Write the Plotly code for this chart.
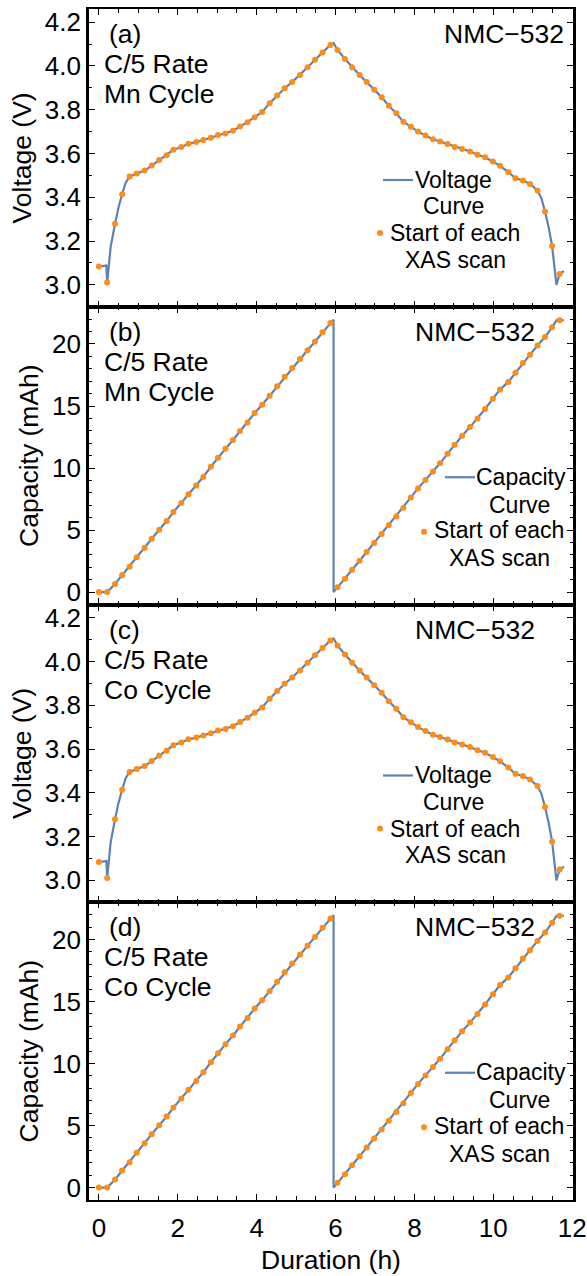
import plotly.graph_objects as go
from plotly.subplots import make_subplots

# ---- cycle data: start time of each XAS scan (h) and the cell state at that moment ----
scan_time = [
    0.00, 0.21, 0.41, 0.59, 0.78, 0.96, 1.16, 1.34, 1.53, 1.72, 1.89, 2.09, 2.27, 2.47,
    2.65, 2.84, 3.02, 3.21, 3.40, 3.58, 3.77, 3.95, 4.14, 4.33, 4.52, 4.71, 4.90, 5.10,
    5.29, 5.48, 5.67, 5.87,
    6.05, 6.24, 6.42, 6.61, 6.79, 6.98, 7.17, 7.35, 7.54, 7.72, 7.91, 8.09, 8.28, 8.47,
    8.65, 8.84, 9.02, 9.21, 9.41, 9.60, 9.79, 9.99, 10.17, 10.38, 10.56, 10.75, 10.93,
    11.12, 11.31, 11.49, 11.68,
]
scan_voltage = [
    3.084, 3.011, 3.279, 3.414, 3.495, 3.509, 3.522, 3.545, 3.570, 3.592, 3.617, 3.630,
    3.644, 3.652, 3.662, 3.672, 3.684, 3.691, 3.704, 3.723, 3.743, 3.766, 3.790, 3.830,
    3.865, 3.898, 3.926, 3.959, 3.994, 4.028, 4.061, 4.096,
    4.073, 4.032, 3.994, 3.959, 3.926, 3.891, 3.857, 3.818, 3.784, 3.745, 3.722, 3.700,
    3.682, 3.665, 3.655, 3.643, 3.630, 3.621, 3.609, 3.594, 3.583, 3.563, 3.544, 3.515,
    3.487, 3.477, 3.461, 3.431, 3.335, 3.178, 3.050,
]
scan_capacity = [
    0.00, 0.00, 0.65, 1.37, 2.04, 2.80, 3.58, 4.30, 5.03, 5.73, 6.45, 7.18, 7.88, 8.60,
    9.30, 10.10, 10.83, 11.56, 12.26, 12.98, 13.68, 14.44, 15.10, 15.83, 16.60, 17.35,
    18.06, 18.79, 19.49, 20.20, 20.94, 21.69,
    0.40, 1.08, 1.80, 2.53, 3.23, 3.95, 4.68, 5.38, 6.10, 6.80, 7.63, 8.36, 9.03, 9.73,
    10.38, 11.16, 11.88, 12.60, 13.30, 14.00, 14.76, 15.59, 16.32, 16.94, 17.69, 18.47,
    19.14, 19.87, 20.56, 21.34, 21.91,
]

# extra vertices of the continuous cycler record between scan starts
volt_curve_t = [0.19, 0.30, 0.50, 0.68, 5.95, 11.22, 11.40, 11.55, 11.60, 11.79]
volt_curve_v = [3.088, 3.175, 3.355, 3.467, 4.105, 3.395, 3.265, 3.090, 3.000, 3.062]
cap_curve_t = [5.95, 5.95, 11.60, 11.79]
cap_curve_v = [21.96, 0.00, 21.90, 21.91]

panel_tags = ["(a)", "(b)", "(c)", "(d)"]
panel_cycles = ["Mn Cycle", "Mn Cycle", "Co Cycle", "Co Cycle"]
panel_kinds = ["voltage", "capacity", "voltage", "capacity"]
material = "NMC\u2212532"
rate = "C/5 Rate"

x_ticks = [0, 2, 4, 6, 8, 10, 12]
volt_ticks = [3.0, 3.2, 3.4, 3.6, 3.8, 4.0, 4.2]
cap_ticks = [0, 5, 10, 15, 20]

LINE_COLOR = "#5E81B5"
DOT_COLOR = "#FF8C14"
FONT = "Liberation Sans, Arial, sans-serif"


def merged_curve(t_pts, v_pts, t_extra, v_extra):
    pts = list(zip(t_pts, v_pts)) + list(zip(t_extra, v_extra))
    pts = sorted(pts, key=lambda p: p[0])
    return [p[0] for p in pts], [p[1] for p in pts]


W, H = 587, 1276
ML, MR, MT, MB = 89, 14, 9, 76
PW = W - ML - MR
PH = (H - MT - MB) / 4

fig = make_subplots(rows=4, cols=1, shared_xaxes=True, vertical_spacing=0)

for i, kind in enumerate(panel_kinds):
    row = i + 1
    if kind == "voltage":
        ct, cv = merged_curve(scan_time, scan_voltage, volt_curve_t, volt_curve_v)
        sv = scan_voltage
    else:
        ct, cv = merged_curve(scan_time, scan_capacity, cap_curve_t, cap_curve_v)
        sv = scan_capacity
    fig.add_trace(go.Scatter(x=ct, y=cv, mode="lines",
                             line=dict(color=LINE_COLOR, width=2.2),
                             showlegend=False, hoverinfo="skip"), row=row, col=1)
    fig.add_trace(go.Scatter(x=scan_time, y=sv, mode="markers",
                             marker=dict(color=DOT_COLOR, size=6, line=dict(width=0)),
                             showlegend=False), row=row, col=1)

tick_common = dict(ticks="inside", ticklen=6, tickwidth=1, tickcolor="black",
                   showline=True, linecolor="black", mirror="ticks",
                   showgrid=False, zeroline=False, automargin=False,
                   tickfont=dict(family=FONT, size=26, color="black"))

for i in range(4):
    xname = "xaxis" if i == 0 else f"xaxis{i + 1}"
    fig.layout[xname].update(range=[-0.25, 12.02], tickvals=x_ticks, linewidth=2.2,
                             minor=dict(dtick=0.5, tick0=0, ticks="inside", ticklen=3.5,
                                        tickwidth=1, tickcolor="black"),
                             **tick_common)

fig.layout.xaxis4.update(title=dict(text="Duration (h)", standoff=8,
                                    font=dict(family=FONT, size=26.5, color="black")),
                         ticklabelstandoff=4)

for i, kind in enumerate(panel_kinds):
    yname = "yaxis" if i == 0 else f"yaxis{i + 1}"
    if kind == "voltage":
        fig.layout[yname].update(range=[2.9, 4.26], tickvals=volt_ticks, tickformat=".1f",
                                 minor=dict(dtick=0.1, tick0=0, ticks="inside", ticklen=3.5,
                                            tickwidth=1, tickcolor="black"),
                                 title=dict(text="Voltage (V)", standoff=6,
                                            font=dict(family=FONT, size=26.5, color="black")),
                                 linewidth=2.6, **tick_common)
    else:
        fig.layout[yname].update(range=[-1, 23], tickvals=cap_ticks,
                                 minor=dict(dtick=1, tick0=0, ticks="inside", ticklen=3.5,
                                            tickwidth=1, tickcolor="black"),
                                 title=dict(text="Capacity (mAh)", standoff=6,
                                            font=dict(family=FONT, size=26.5, color="black")),
                                 linewidth=2.6, **tick_common)

annotations = []
shapes = []


def dx(px):
    return px / PW


def dy(px):
    return 1 - px / PH


# legend layouts, pixel offsets from each panel's top-left corner
legend_layout = {
    "voltage": dict(line=(294, 324, 171), dot=(291, 224),
                    texts=[("Voltage", 364, 170.5), ("Curve", 364, 197),
                           ("Start of each", 366, 224), ("XAS scan", 366.5, 250.5)]),
    "capacity": dict(line=(356, 386, 170.5), dot=(335, 225),
                     texts=[("Capacity", 432, 170), ("Curve", 430.7, 198),
                            ("Start of each", 410, 223.5), ("XAS scan", 410, 251.5)]),
}
material_right = [7, 36, 36, 36]

for i, kind in enumerate(panel_kinds):
    xr = "x domain" if i == 0 else f"x{i + 1} domain"
    yr = "y domain" if i == 0 else f"y{i + 1} domain"
    txt = dict(family=FONT, size=26.5, color="black")
    annotations.append(dict(xref=xr, yref=yr, x=dx(18), y=dy(25), text=panel_tags[i],
                            xanchor="left", yanchor="middle", showarrow=False, font=txt))
    annotations.append(dict(xref=xr, yref=yr, x=dx(13), y=dy(55), text=rate,
                            xanchor="left", yanchor="middle", showarrow=False, font=txt))
    annotations.append(dict(xref=xr, yref=yr, x=dx(13), y=dy(85), text=panel_cycles[i],
                            xanchor="left", yanchor="middle", showarrow=False, font=txt))
    annotations.append(dict(xref=xr, yref=yr, x=dx(PW - material_right[i]), y=dy(25),
                            text=material, xanchor="right", yanchor="middle",
                            showarrow=False, font=txt))
    lg = legend_layout[kind]
    for text, cx, cy in lg["texts"]:
        annotations.append(dict(xref=xr, yref=yr, x=dx(cx), y=dy(cy), text=text,
                                xanchor="center", yanchor="middle", showarrow=False,
                                font=dict(family=FONT, size=23, color="black")))
    x0, x1, ly = lg["line"]
    shapes.append(dict(type="line", xref=xr, yref=yr, x0=dx(x0), x1=dx(x1), y0=dy(ly),
                       y1=dy(ly), line=dict(color=LINE_COLOR, width=2.2)))
    ddx, ddy = lg["dot"]
    r = 3
    shapes.append(dict(type="circle", xref=xr, yref=yr, x0=dx(ddx - r), x1=dx(ddx + r),
                       y0=dy(ddy + r), y1=dy(ddy - r), fillcolor=DOT_COLOR,
                       line=dict(width=0)))

fig.update_layout(width=W, height=H, margin=dict(l=ML, r=MR, t=MT, b=MB),
                  paper_bgcolor="white", plot_bgcolor="white",
                  font=dict(family=FONT, size=26, color="black"),
                  annotations=annotations, shapes=shapes, showlegend=False)

fig.write_html("out.html")
